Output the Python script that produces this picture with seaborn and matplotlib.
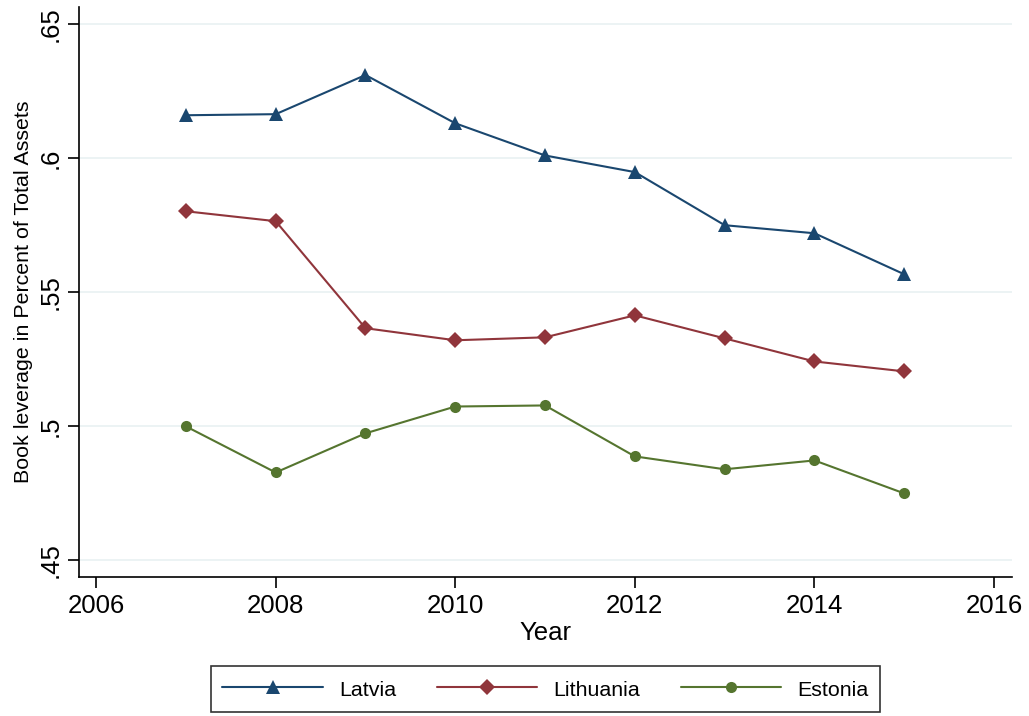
import matplotlib
matplotlib.use("Agg")
import matplotlib.pyplot as plt
import seaborn as sns
import pandas as pd

years = [2007, 2008, 2009, 2010, 2011, 2012, 2013, 2014, 2015]
latvia = [0.616, 0.6164, 0.631, 0.613, 0.601, 0.5948, 0.575, 0.572, 0.5567]
lithuania = [0.5802, 0.5765, 0.5366, 0.5321, 0.5332, 0.5414, 0.5328, 0.5242, 0.5205]
estonia = [0.500, 0.4828, 0.4974, 0.5074, 0.5078, 0.4888, 0.4840, 0.4873, 0.4750]

countries = ["Latvia", "Lithuania", "Estonia"]
colors = ["#1a476f", "#90353b", "#55752f"]
markers = ["^", "D", "o"]
msizes = [10, 8, 8]

y_ticks = [0.45, 0.5, 0.55, 0.6, 0.65]
y_ticklabels = [".45", ".5", ".55", ".6", ".65"]
x_ticks = [2006, 2008, 2010, 2012, 2014, 2016]

df = pd.DataFrame({
    "Year": years * 3,
    "value": latvia + lithuania + estonia,
    "country": [c for c in countries for _ in years],
})

sns.set_style("white")
plt.rcParams["font.family"] = ["Liberation Sans", "DejaVu Sans"]
plt.rcParams["text.color"] = "black"
plt.rcParams["axes.labelcolor"] = "black"
plt.rcParams["xtick.color"] = "black"
plt.rcParams["ytick.color"] = "black"

fig = plt.figure(figsize=(10.29, 7.16), dpi=100)
ax = fig.add_axes([0.0768, 0.194, 0.9067, 0.796])

for c, col, mk, ms in zip(countries, colors, markers, msizes):
    sns.lineplot(data=df[df["country"] == c], x="Year", y="value", ax=ax,
                 color=col, marker=mk, markersize=ms, markeredgewidth=0,
                 linewidth=1.5, label=c)

ax.set_xlim(2005.81, 2016.2)
ax.set_ylim(0.4438, 0.6563)
ax.set_yticks(y_ticks)
ax.set_yticklabels(y_ticklabels, rotation=90, va="center")
ax.set_xticks(x_ticks)
ax.grid(axis="y", color="#eaf2f3", linewidth=1.3)
ax.grid(axis="x", visible=False)
ax.set_axisbelow(True)

for s in ["top", "right"]:
    ax.spines[s].set_visible(False)
for s in ["left", "bottom"]:
    ax.spines[s].set_color("black")
    ax.spines[s].set_linewidth(1.2)

ax.tick_params(axis="both", direction="out", length=8, width=1.2,
               color="black", labelcolor="black", labelsize=18.5,
               left=True, bottom=True, pad=4)
ax.set_xlabel("Year", fontsize=18.5, labelpad=2, color="black")
ax.set_ylabel("Book leverage in Percent of Total Assets", fontsize=15.4,
              labelpad=4, color="black")

ax.legend_.remove()
handles, labels = ax.get_legend_handles_labels()
leg = fig.legend(handles, labels, loc="center", bbox_to_anchor=(0.5301, 0.0377),
                 ncol=3, frameon=True, fancybox=False, fontsize=15.4,
                 handlelength=4.7, handleheight=1.3, columnspacing=1.9,
                 handletextpad=0.75, borderpad=0.55, edgecolor="black")
leg.get_frame().set_linewidth(1.2)

fig.savefig("out.png", dpi=100)
